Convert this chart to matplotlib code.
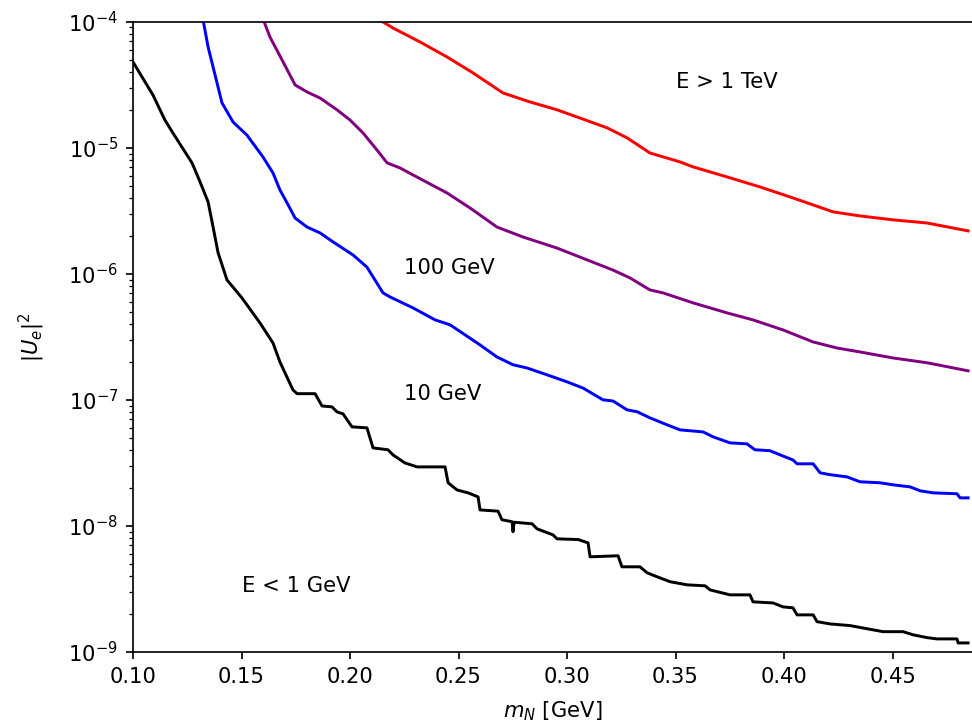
import matplotlib
matplotlib.use("Agg")
import matplotlib.pyplot as plt

# sensitivity curves |U_e|^2 vs m_N, one per energy threshold
black_x = [0.1000, 0.1092, 0.1147, 0.1184, 0.1272, 0.1309, 0.1346, 0.1369, 0.1392, 0.1433,
           0.1502, 0.1585, 0.1645, 0.1677, 0.1737, 0.1756, 0.1839, 0.1871, 0.1917, 0.1940,
           0.1968, 0.2009, 0.2078, 0.2106, 0.2175, 0.2198, 0.2253, 0.2309, 0.2438, 0.2452,
           0.2493, 0.2544, 0.2590, 0.2599, 0.2682, 0.2700, 0.2747, 0.2751, 0.2756, 0.2839,
           0.2862, 0.2935, 0.2954, 0.3051, 0.3097, 0.3106, 0.3235, 0.3253, 0.3336, 0.3369,
           0.3415, 0.3475, 0.3553, 0.3636, 0.3659, 0.3751, 0.3843, 0.3857, 0.3949, 0.3995,
           0.4041, 0.4060, 0.4134, 0.4152, 0.4212, 0.4304, 0.4382, 0.4456, 0.4548, 0.4594,
           0.4659, 0.4705, 0.4797, 0.4802, 0.4848]
black_y = [4.79e-5, 2.62e-5, 1.66e-5, 1.31e-5, 7.58e-6, 5.36e-6, 3.72e-6, 2.35e-6, 1.47e-6, 8.95e-7,
           6.44e-7, 4.08e-7, 2.83e-7, 2.00e-7, 1.20e-7, 1.12e-7, 1.12e-7, 8.95e-8, 8.80e-8, 8.03e-8,
           7.74e-8, 6.11e-8, 6.00e-8, 4.16e-8, 4.02e-8, 3.66e-8, 3.16e-8, 2.94e-8, 2.94e-8, 2.20e-8,
           1.93e-8, 1.83e-8, 1.70e-8, 1.34e-8, 1.31e-8, 1.12e-8, 1.08e-8, 9.00e-9, 1.07e-8, 1.04e-8,
           9.48e-9, 8.50e-9, 7.90e-9, 7.80e-9, 7.34e-9, 5.69e-9, 5.80e-9, 4.74e-9, 4.74e-9, 4.25e-9,
           3.95e-9, 3.61e-9, 3.41e-9, 3.35e-9, 3.11e-9, 2.84e-9, 2.84e-9, 2.50e-9, 2.45e-9, 2.28e-9,
           2.24e-9, 1.97e-9, 1.97e-9, 1.74e-9, 1.67e-9, 1.62e-9, 1.53e-9, 1.45e-9, 1.45e-9, 1.37e-9,
           1.30e-9, 1.27e-9, 1.27e-9, 1.18e-9, 1.18e-9]

blue_x = [0.1320, 0.1346, 0.1369, 0.1410, 0.1461, 0.1525, 0.1599, 0.1645, 0.1677, 0.1710,
          0.1747, 0.1802, 0.1862, 0.1922, 0.2014, 0.2078, 0.2152, 0.2184, 0.2290, 0.2392,
          0.2461, 0.2599, 0.2677, 0.2751, 0.2816, 0.2908, 0.3000, 0.3074, 0.3166, 0.3212,
          0.3276, 0.3323, 0.3382, 0.3461, 0.3521, 0.3627, 0.3673, 0.3751, 0.3829, 0.3866,
          0.3935, 0.4005, 0.4041, 0.4060, 0.4134, 0.4166, 0.4212, 0.4290, 0.4350, 0.4442,
          0.4502, 0.4581, 0.4627, 0.4687, 0.4797, 0.4811, 0.4848]
blue_y = [1.10e-4, 6.30e-5, 4.37e-5, 2.27e-5, 1.60e-5, 1.26e-5, 8.45e-6, 6.31e-6, 4.63e-6, 3.65e-6,
          2.77e-6, 2.35e-6, 2.11e-6, 1.79e-6, 1.41e-6, 1.13e-6, 7.06e-7, 6.56e-7, 5.37e-7, 4.31e-7,
          3.94e-7, 2.73e-7, 2.19e-7, 1.90e-7, 1.79e-7, 1.58e-7, 1.39e-7, 1.24e-7, 1.00e-7, 9.80e-8,
          8.34e-8, 8.05e-8, 7.20e-8, 6.34e-8, 5.78e-8, 5.57e-8, 5.09e-8, 4.56e-8, 4.48e-8, 4.02e-8,
          3.95e-8, 3.53e-8, 3.34e-8, 3.11e-8, 3.11e-8, 2.64e-8, 2.55e-8, 2.45e-8, 2.24e-8, 2.20e-8,
          2.12e-8, 2.04e-8, 1.90e-8, 1.83e-8, 1.80e-8, 1.67e-8, 1.67e-8]

purple_x = [0.1595, 0.1631, 0.1687, 0.1747, 0.1802, 0.1862, 0.1940, 0.2000, 0.2060, 0.2124,
            0.2171, 0.2230, 0.2290, 0.2447, 0.2553, 0.2677, 0.2797, 0.2954, 0.3092, 0.3212,
            0.3290, 0.3382, 0.3442, 0.3581, 0.3737, 0.3857, 0.3995, 0.4134, 0.4244, 0.4350,
            0.4502, 0.4659, 0.4848]
purple_y = [1.10e-4, 7.56e-5, 4.97e-5, 3.15e-5, 2.77e-5, 2.48e-5, 2.00e-5, 1.66e-5, 1.31e-5, 9.61e-6,
            7.58e-6, 6.92e-6, 6.09e-6, 4.38e-6, 3.33e-6, 2.35e-6, 1.96e-6, 1.60e-6, 1.29e-6, 1.07e-6,
            9.28e-7, 7.45e-7, 7.06e-7, 5.88e-7, 4.90e-7, 4.31e-7, 3.59e-7, 2.88e-7, 2.58e-7, 2.40e-7,
            2.15e-7, 1.97e-7, 1.70e-7]

red_x = [0.2130, 0.2198, 0.2323, 0.2447, 0.2567, 0.2705, 0.2829, 0.2954, 0.3060, 0.3184,
         0.3276, 0.3382, 0.3521, 0.3581, 0.3737, 0.3889, 0.4041, 0.4134, 0.4226, 0.4350,
         0.4502, 0.4659, 0.4848]
red_y = [1.05e-4, 8.91e-5, 6.90e-5, 5.25e-5, 3.92e-5, 2.72e-5, 2.31e-5, 2.00e-5, 1.72e-5, 1.44e-5,
         1.20e-5, 9.09e-6, 7.72e-6, 7.05e-6, 5.87e-6, 4.89e-6, 4.00e-6, 3.52e-6, 3.10e-6, 2.88e-6,
         2.68e-6, 2.53e-6, 2.19e-6]

labels = ["E < 1 GeV", "10 GeV", "100 GeV", "E > 1 TeV"]
label_pos = [(0.15, 3e-9), (0.225, 1e-7), (0.225, 1e-6), (0.35, 3e-5)]
xticks = [0.10, 0.15, 0.20, 0.25, 0.30, 0.35, 0.40, 0.45]

fig = plt.figure(figsize=(972 / 152, 728 / 152), dpi=152)
ax = fig.add_axes([133 / 972, 1 - 652 / 728, 1 - 133 / 972, (652 - 21.7) / 728])

ax.plot(black_x, black_y, color="black", lw=1.4)
ax.plot(blue_x, blue_y, color="blue", lw=1.4)
ax.plot(purple_x, purple_y, color="purple", lw=1.4)
ax.plot(red_x, red_y, color="red", lw=1.4)

for txt, (tx, ty) in zip(labels, label_pos):
    ax.text(tx, ty, txt, fontsize=10)

ax.set_yscale("log")
ax.set_xlim(0.1, 0.4866)
ax.set_ylim(1e-9, 1e-4)
ax.set_xticks(xticks)
ax.set_xticklabels([f"{t:.2f}" for t in xticks])
ax.spines["right"].set_visible(False)
ax.set_xlabel(r"$m_N$ [GeV]", labelpad=6)
ax.set_ylabel(r"$|U_e|^2$", labelpad=10)

fig.savefig("out.png", dpi=152)
